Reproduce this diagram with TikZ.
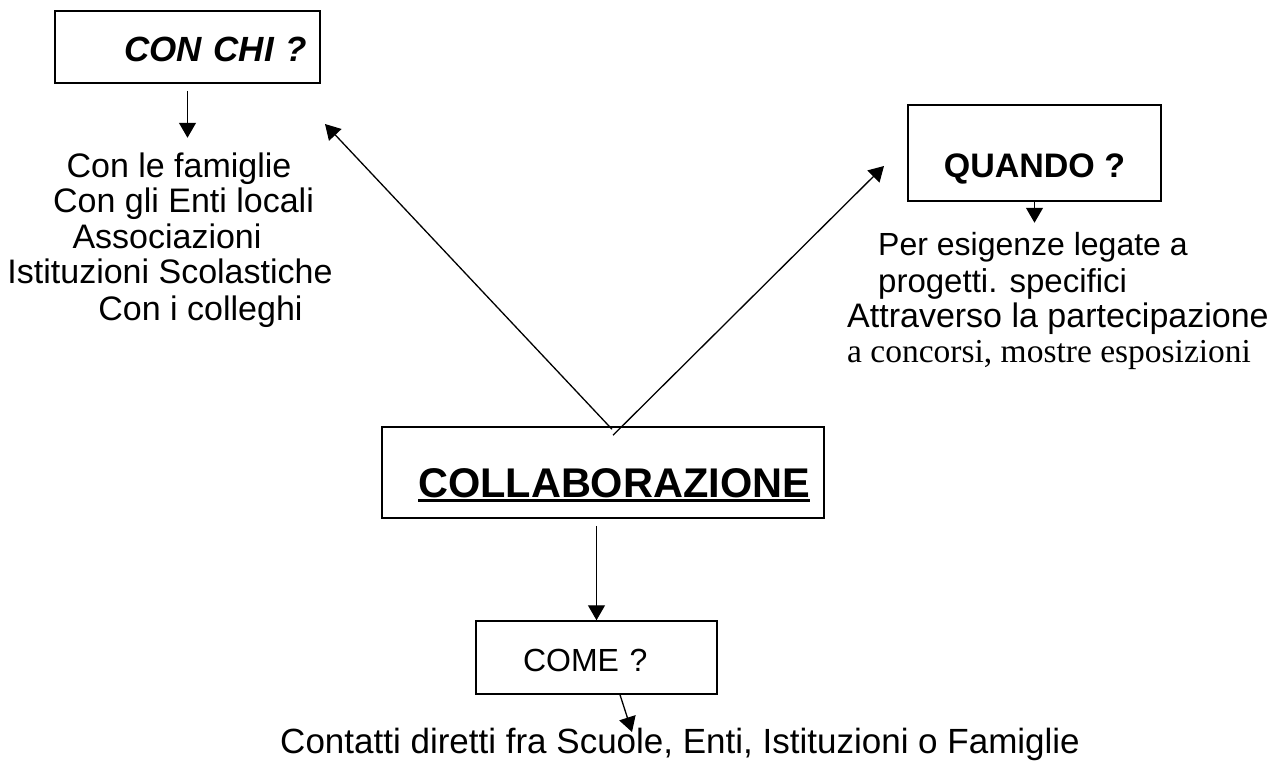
\documentclass[tikz,border=0pt]{standalone}
\usepackage{fontspec}
\setmainfont{Liberation Sans}
\newfontfamily\timesfont{Liberation Serif}
\usetikzlibrary{arrows.meta}

\newsavebox\ulbx
\newcommand{\ulword}[1]{\sbox\ulbx{#1}\rlap{\rule[-4.5pt]{\wd\ulbx}{3pt}}\usebox\ulbx}

\tikzset{
  qbox/.style={draw, line width=1.5pt, inner ysep=0pt, inner xsep=0pt},
  arr/.style={-{Triangle[length=15pt,width=17pt]}, line width=1.3pt},
  txt/.style={inner sep=0pt, font=\fontsize{34}{40}\selectfont},
}

\begin{document}
\begin{tikzpicture}[x=1pt,y=1pt,yscale=-1,xscale=1]
\useasboundingbox (0,0) rectangle (1278,763);
%Boxes
\node [qbox, inner xsep=13pt, text width=239pt, align=right, text height=50pt, text depth=22pt, font=\bfseries\itshape\fontsize{35}{40}\selectfont] (conchi) at (187.5,47) {CON CHI ?};
\node [qbox, minimum width=253pt, text height=72pt, text depth=24pt, font=\bfseries\fontsize{34}{40}\selectfont] (quando) at (1034.5,153) {QUANDO ?};
\node [qbox, inner xsep=14pt, text width=414pt, align=right, text height=70pt, text depth=21pt, font=\bfseries\fontsize{41.5}{48}\selectfont] (collab) at (603,472.5) {\ulword{COLLABORAZIONE}};
\node [qbox, inner xsep=47pt, text width=147pt, align=left, text height=50pt, text depth=23pt, font=\fontsize{32}{38}\selectfont] (come) at (596.5,657.5) {COME ?};
%Text
\draw (179,177) node [txt, anchor=base] (chi1) {Con le famiglie};
\draw (183.5,212) node [txt, anchor=base] (chi2) {Con gli Enti locali};
\draw (167,248) node [txt, anchor=base] (chi3) {Associazioni};
\draw (170,283) node [txt, anchor=base] (chi4) {Istituzioni Scolastiche};
\draw (200.5,320) node [txt, anchor=base] (chi5) {Con i colleghi};
\draw (878,255) node [txt, anchor=base west, font=\fontsize{32}{38}\selectfont] (quando1) {Per esigenze legate a};
\draw (878,292) node [txt, anchor=base west, font=\fontsize{33}{38}\selectfont] (quando2) {progetti. specifici};
\draw (847,327) node [txt, anchor=base west] (quando3) {Attraverso la partecipazione};
\draw (847,362) node [txt, anchor=base west, font=\timesfont\fontsize{33.5}{38}\selectfont] (quando4) {a concorsi, mostre esposizioni};
\draw (680,753) node [txt, anchor=base, font=\fontsize{35}{40}\selectfont] (contatti) {Contatti diretti fra Scuole, Enti, Istituzioni o Famiglie};
%Arrows
\coordinate (chitip) at (325,124);
\coordinate (quandotip) at (884,166);
\coordinate (cometip) at (632,732);
\draw [arr] ([yshift=7pt]conchi.south) -- ++(0,47);
\draw [arr] (quando.south) -- ++(0,21);
\draw [arr] ([xshift=9pt,yshift=3pt]collab.north) -- (chitip);
\draw [arr] ([xshift=10pt,yshift=9pt]collab.north) -- (quandotip);
\draw [arr] ([yshift=7pt]collab.south -| come.north) -- (come.north);
\draw [arr] ([xshift=23.5pt]come.south) -- (cometip);
\end{tikzpicture}
\end{document}
